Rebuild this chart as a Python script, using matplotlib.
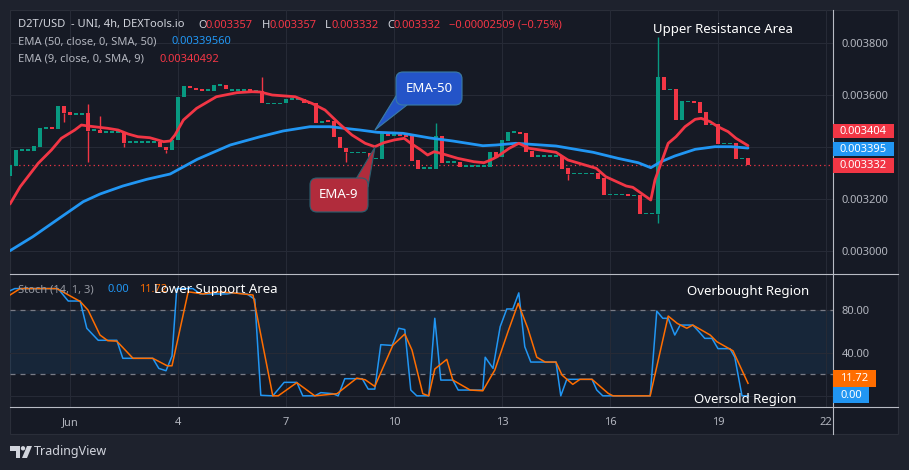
import matplotlib
matplotlib.use("Agg")
import matplotlib.pyplot as plt
from matplotlib.patches import Rectangle, FancyBboxPatch, Polygon, Circle

plt.rcParams['font.family'] = ['Noto Sans', 'DejaVu Sans']

W, H = 909, 470

# ------------------------------------------------ Daten ------------------------------------------------
# 4h-Kerzen, Index 0 = 1. Juni 00:00 (6 Kerzen pro Tag)
bars = list(range(-10, 114))

opens = [
    0.003288, 0.003327, 0.003388, 0.003388, 0.003385, 0.003401, 0.003474, 0.003477, 0.003469, 0.003558,
    0.003535, 0.003527, 0.003524, 0.003531, 0.003465, 0.003465, 0.003458, 0.003458, 0.003458, 0.003458,
    0.003419, 0.003419, 0.003419, 0.003419, 0.003419, 0.003419, 0.003398, 0.003388, 0.003425, 0.003593,
    0.003635, 0.003629, 0.003620, 0.003619, 0.003617, 0.003639, 0.003639, 0.003620, 0.003620, 0.003620,
    0.003624, 0.003616, 0.003614, 0.003568, 0.003568, 0.003568, 0.003568, 0.003584, 0.003584, 0.003584,
    0.003569, 0.003568, 0.003497, 0.003501, 0.003500, 0.003437, 0.003395, 0.003379, 0.003379, 0.003379,
    0.003375, 0.003356, 0.003355, 0.003453, 0.003446, 0.003447, 0.003446, 0.003442, 0.003349, 0.003318,
    0.003318, 0.003316, 0.003442, 0.003341, 0.003341, 0.003341, 0.003326, 0.003326, 0.003326, 0.003326,
    0.003324, 0.003381, 0.003360, 0.003424, 0.003457, 0.003457, 0.003454, 0.003384, 0.003364, 0.003364,
    0.003364, 0.003364, 0.003364, 0.003319, 0.003298, 0.003298, 0.003298, 0.003298, 0.003298, 0.003280,
    0.003216, 0.003216, 0.003216, 0.003214, 0.003213, 0.003214, 0.003143, 0.003143, 0.003142, 0.003669,
    0.003622, 0.003622, 0.003504, 0.003576, 0.003576, 0.003572, 0.003535, 0.003487, 0.003488, 0.003413,
    0.003413, 0.003414, 0.003356, 0.003357,
]
closes = [
    0.003330, 0.003388, 0.003388, 0.003388, 0.003403, 0.003473, 0.003474, 0.003469, 0.003558, 0.003532,
    0.003524, 0.003527, 0.003531, 0.003461, 0.003465, 0.003454, 0.003458, 0.003458, 0.003458, 0.003416,
    0.003419, 0.003419, 0.003419, 0.003419, 0.003419, 0.003398, 0.003388, 0.003427, 0.003593, 0.003635,
    0.003629, 0.003618, 0.003619, 0.003619, 0.003639, 0.003639, 0.003622, 0.003620, 0.003620, 0.003620,
    0.003616, 0.003616, 0.003568, 0.003568, 0.003568, 0.003568, 0.003584, 0.003584, 0.003584, 0.003568,
    0.003568, 0.003493, 0.003497, 0.003500, 0.003437, 0.003395, 0.003379, 0.003379, 0.003379, 0.003379,
    0.003356, 0.003356, 0.003453, 0.003442, 0.003446, 0.003446, 0.003437, 0.003347, 0.003316, 0.003318,
    0.003318, 0.003442, 0.003339, 0.003341, 0.003341, 0.003324, 0.003326, 0.003326, 0.003326, 0.003326,
    0.003381, 0.003360, 0.003427, 0.003458, 0.003457, 0.003451, 0.003381, 0.003362, 0.003364, 0.003364,
    0.003364, 0.003364, 0.003316, 0.003297, 0.003298, 0.003298, 0.003298, 0.003298, 0.003276, 0.003215,
    0.003216, 0.003216, 0.003216, 0.003213, 0.003213, 0.003142, 0.003143, 0.003143, 0.003669, 0.003621,
    0.003622, 0.003504, 0.003576, 0.003576, 0.003569, 0.003532, 0.003485, 0.003487, 0.003412, 0.003413,
    0.003413, 0.003354, 0.003356, 0.003332,
]
# sichtbare Dochte
wick_high = {3: 0.003566, 5: 0.003519, 32: 0.003671, 61: 0.003493, 98: 0.003825}
wick_low = {-1: 0.003497, 3: 0.003343, 9: 0.003401, 16: 0.003378, 46: 0.003343, 83: 0.003272, 98: 0.003105}

# EMA-Linien
ema9_x = [-10, -8.3, -5.3, -3.1, -1.45, 0.8, 1.9, 3, 6.3, 8, 9.7, 11.3, 13.3, 15.6, 16.7, 17.5, 18.9, 21.1,
          24.4, 27.8, 30.3, 31.7, 33.7, 37.5, 40.3, 42.5, 44.8, 47, 49.2, 50.8, 52.3, 54, 55.7, 56.8, 58.5,
          59.6, 60.7, 61.8, 64.6, 67.3, 69, 70.1, 71.2, 73.2, 74.8, 76.5, 81, 83, 87.7, 89.3, 92.7, 93.8,
          96.8, 97.5, 99.7, 101, 102.5, 104.2, 105.2, 106.7, 108, 109.7, 111, 113]
ema9_y = [.0031795, .0032463, .0033367, .003388, .0034332, .0034653, .0034846, .0034807, .0034718, .0034653,
          .0034498, .0034394, .0034355, .0034201, .0034228, .0034459, .0035039, .003549, .0035938, .0036093,
          .0036131, .003612, .0036004, .0035938, .0035683, .0035425, .0034911, .0034459, .0034139, .0034008,
          .0034162, .0034266, .0034332, .0034139, .003388, .0033687, .0033815, .0033753, .003356, .0033429,
          .003339, .0033494, .0033622, .0033946, .0034139, .0033946, .0033792, .0033494, .0033174, .0032849,
          .003249, .003244, .003195, .0032722, .0034139, .0034394, .003478, .0035066, .0035104, .0034973,
          .003478, .0034587, .0034332, .0034049]
ema50_x = [-10, -6.2, -2.2, 2.2, 5, 8.8, 12.8, 16.7, 21.2, 26.7, 31.7, 35.5, 40, 43.3, 48.3, 51.2, 55.5,
           60, 63.8, 68.8, 71, 74.3, 81, 87.2, 91.3, 94.7, 96.8, 98.5, 100.8, 104.2, 107.5, 110.2, 113]
ema50_y = [.0029992, .0030533, .0031178, .0031884, .0032181, .003249, .0032749, .0032954, .0033521, .0034073,
           .0034394, .0034614, .003478, .003478, .0034653, .0034564, .0034525, .0034344, .0034228, .0034046,
           .0034073, .0034139, .0034035, .0033792, .003356, .003339, .0033197, .0033429, .0033649, .0033907,
           .0034008, .0034008, .0033956]

# Stochastik %K (blau) und %D (orange)
k_x = [-10, -9.2, -2, -0.3, 1.7, 2.8, 4.7, 7.8, 8.8, 13.8, 14.8, 16, 17, 17.8, 20.5, 21.7, 26.2, 27.2, 29.5,
       30.8, 31.8, 33.8, 35.7, 37.8, 38.8, 40.8, 41.8, 43.8, 44.7, 45.8, 48.7, 49.7, 50.8, 51.8, 53.7, 54.8,
       55.8, 56.8, 57.8, 59.8, 60.8, 61.8, 63.8, 64.7, 68.8, 69.2, 70.5, 71.7, 72.8, 73.8, 74.8, 75.8, 76.8,
       81, 81.8, 82.8, 87, 87.8, 88.8, 96.7, 97.8, 98.8, 99.7, 100.8, 101.7, 103.8, 104.8, 105.8, 107, 108,
       110, 110.8, 112, 113]
k_val = [98, 100, 100, 88.4, 88.4, 63, 51.8, 51.8, 35, 35, 25.6, 23.4, 37.1, 100, 100, 95, 95, 96, 95, 90,
         0.5, 0, 12.6, 12.6, 0, 0, 3, 2, 0, 16, 16, 6.3, 6.3, 47.7, 47, 63, 61.8, 5.4, 0, 0, 72.3, 14.7, 14.7,
         5.4, 5.4, 36, 25.6, 64.5, 81, 81, 96, 45.8, 31.5, 31.5, 0, 15.4, 15.4, 5.4, 0, 0, 79, 72.3, 72.3,
         56.7, 66, 66, 60, 53.6, 53.6, 44, 44, 36, 0, 0]
d_x = [-10, -8.3, -2.2, 1.7, 3.0, 5.0, 6.3, 7.8, 10.5, 13.8, 16.2, 17.0, 19.7, 22.2, 24.5, 27.2, 30.5, 33.8,
       34.7, 37.8, 40.8, 44.5, 47.8, 49.2, 50.8, 53.8, 55.8, 57.0, 58.8, 59.8, 60.8, 62.8, 63.8, 66.7, 68.8,
       70.8, 73.0, 74.7, 76.3, 77.8, 79.2, 81.0, 82.0, 83.8, 85.0, 87.0, 89.7, 90.5, 96.7, 99.7, 101.2, 102.8,
       103.8, 106.7, 107.8, 110.5, 113]
d_val = [94, 100, 100, 88, 80, 56.7, 51.4, 51, 35, 35, 28, 28, 97, 95, 97, 96, 94, 0, 0, 12.3, 0, 2, 16.5,
         15, 8.8, 47.1, 57.6, 42.7, 2, 0, 25, 34, 14.7, 5.4, 4.7, 24, 59.8, 86.3, 63, 36, 31.5, 31.5, 19.4,
         10.7, 15.4, 15.4, 2.3, 0, 0, 74.4, 67.6, 63, 66, 56.7, 50.5, 42, 11.72]

date_ticks = [0, 18, 36, 54, 72, 90, 108, 126]
date_labels = ['Jun', '4', '7', '10', '13', '16', '19', '22']
price_ticks = [0.0030, 0.0032, 0.0034, 0.0036, 0.0038]
price_labels = ['0.003000', '0.003200', '', '0.003600', '0.003800']

# ------------------------------------------------ Farben ------------------------------------------------
up = '#089981'
down = '#F23645'
blue = '#2196F3'
orange = '#FF6D00'
grid_c = '#262a36'
txt_c = '#b2b5be'

fig = plt.figure(figsize=(W / 100, H / 100), dpi=100)
fig.patch.set_facecolor('#1e222d')
fig.add_artist(Rectangle((10 / W, 1 - 434 / H), 888 / W, 424 / H, transform=fig.transFigure,
                         facecolor='#161a25', edgecolor='#2a2e39', lw=0.8, zorder=-5))

ax1 = fig.add_axes([10 / W, 1 - 274 / H, 823 / W, 264 / H])
ax2 = fig.add_axes([10 / W, 1 - 407 / H, 823 / W, 133 / H])
for ax in (ax1, ax2):
    ax.set_facecolor('none')
    for s in ax.spines.values():
        s.set_visible(False)
    ax.set_xlim(-10, 127.17)
    ax.set_xticks(date_ticks)
    ax.grid(True, color=grid_c, lw=0.8)
    ax.set_axisbelow(True)
    ax.yaxis.tick_right()
    ax.tick_params(length=0, labelsize=8, labelcolor=txt_c, pad=6)

# ------------------------------------------------ Kerzen ------------------------------------------------
minh = 0.000006
colors = [up if c >= o else down for o, c in zip(opens, closes)]
bottoms, heights = [], []
for o, c in zip(opens, closes):
    if abs(c - o) < minh:
        bottoms.append((o + c) / 2 - minh / 2)
        heights.append(minh)
    else:
        bottoms.append(min(o, c))
        heights.append(abs(c - o))
ax1.bar(bars, heights, bottom=bottoms, width=0.8, color=colors, linewidth=0, zorder=2)

for b, hv in wick_high.items():
    k = bars.index(b)
    ax1.vlines(b, max(opens[k], closes[k]), hv, color=colors[k], lw=1, zorder=2)
for b, lv in wick_low.items():
    k = bars.index(b)
    ax1.vlines(b, lv, min(opens[k], closes[k]), color=colors[k], lw=1, zorder=2)

ax1.plot(ema50_x, ema50_y, color=blue, lw=2, zorder=3, solid_capstyle='round')
ax1.plot(ema9_x, ema9_y, color=down, lw=2, zorder=3, solid_capstyle='round')
ax1.axhline(closes[-1], color=down, lw=0.9, ls=(0, (1, 2.5)), zorder=1)

ax1.set_ylim(0.0029093, 0.0039286)
ax1.set_yticks(price_ticks)
ax1.set_yticklabels(price_labels)
ax1.set_xticklabels([])

# ------------------------------------------------ Stochastik ------------------------------------------------
ax2.axhspan(20, 80, color=blue, alpha=0.1, lw=0, zorder=0)
ax2.axhline(80, color='#787b86', lw=0.9, ls=(0, (4, 4)), zorder=1)
ax2.axhline(20, color='#787b86', lw=0.9, ls=(0, (4, 4)), zorder=1)
ax2.plot(k_x, k_val, color=blue, lw=1.1, zorder=3)
ax2.plot(d_x, d_val, color=orange, lw=1.1, zorder=3)
ax2.set_ylim(-10.4, 113.6)
ax2.set_yticks([0, 40, 80])
ax2.set_yticklabels(['', '40.00', '80.00'])
ax2.set_xticklabels(date_labels)
ax2.tick_params(axis='x', pad=7)

# ------------------------------------------------ Overlay (Pixel) ------------------------------------------------
ov = fig.add_axes([0, 0, 1, 1], zorder=10)
ov.set_xlim(0, W)
ov.set_ylim(H, 0)
ov.axis('off')
ov.patch.set_alpha(0)

sep = '#b8bbc4'
ov.plot([10, 898], [274, 274], color=sep, lw=0.8)
ov.plot([10, 898], [407, 407], color=sep, lw=0.8)
ov.plot([833, 833], [10, 434], color=sep, lw=0.8)

# Kopfzeile
head = [('D2T/USD  - UNI, 4h, DEXTools.io', 18, '#d1d4dc'),
        ('O', 198, '#d1d4dc'), ('%.6f' % opens[-1], 206, down),
        ('H', 262, '#d1d4dc'), ('0.003357', 270, down),
        ('L', 325, '#d1d4dc'), ('0.003332', 331, down),
        ('C', 387, '#d1d4dc'), ('%.6f' % closes[-1], 393, down),
        ('\u22120.00002509 (\u22120.75%)', 449, down)]
for s, x, c in head:
    ov.text(x, 25, s, color=c, fontsize=8, va='center', ha='left')
ov.text(18, 42, 'EMA (50, close, 0, SMA, 50)', color=txt_c, fontsize=8, va='center')
ov.text(172, 42, '0.00339560', color=blue, fontsize=8, va='center')
ov.text(18, 59, 'EMA (9, close, 0, SMA, 9)', color=txt_c, fontsize=8, va='center')
ov.text(160, 59, '0.00340492', color=down, fontsize=8, va='center')

ov.text(18, 290, 'Stoch (14, 1, 3)', color='#9598a1', fontsize=8, va='center')
ov.text(108, 290, '0.00', color=blue, fontsize=8, va='center')
ov.text(139, 290, '11.72', color=orange, fontsize=8, va='center')
ov.text(216, 290, 'Lower Support Area', color='white', fontsize=9.5, va='center', ha='center')

ov.text(723, 30, 'Upper Resistance Area', color='white', fontsize=9.5, va='center', ha='center')
ov.text(748, 291, 'Overbought Region', color='white', fontsize=9.5, va='center', ha='center')
ov.text(745, 399, 'Oversold Region', color='white', fontsize=9.5, va='center', ha='center')

# Sprechblasen
ov.add_patch(Polygon([(396, 96), (407, 105), (375, 130)], closed=True, facecolor='#2454c8',
                     edgecolor='#3a7ca5', lw=0.8, zorder=4))
ov.add_patch(FancyBboxPatch((396, 72), 66, 33, boxstyle='round,pad=0,rounding_size=7',
                            facecolor='#2454c8', edgecolor='#3a7ca5', lw=0.8, zorder=5))
ov.text(429, 88.5, 'EMA-50', color='white', fontsize=9.5, ha='center', va='center', zorder=6)

ov.add_patch(Polygon([(356, 179), (368, 187), (375, 147)], closed=True, facecolor='#b12c3c',
                     edgecolor='#2b6070', lw=0.8, zorder=4))
ov.add_patch(FancyBboxPatch((310, 178), 58, 34, boxstyle='round,pad=0,rounding_size=7',
                            facecolor='#b12c3c', edgecolor='#2b6070', lw=0.8, zorder=5))
ov.text(339, 195, 'EMA-9', color='white', fontsize=9.5, ha='center', va='center', zorder=6)


# Preis-Marken rechts
def tag(y0, y1, x1, text, color):
    ov.add_patch(Rectangle((833, y0), x1 - 833, y1 - y0, facecolor=color, edgecolor='none', zorder=5))
    ov.text((833 + x1) / 2, (y0 + y1) / 2, text, color='white', fontsize=8, fontweight='bold',
            ha='center', va='center', zorder=6)


tag(124, 138, 894, '0.003404', down)
tag(142, 156, 894, '0.003395', blue)
tag(158, 173, 894, '%.6f' % closes[-1], down)
tag(370, 387, 876, '11.72', orange)
tag(387, 403, 869, '0.00', blue)

# TradingView Logo
logo = '#d1d4dc'
ov.add_patch(Polygon([(10, 446), (20, 446), (20, 458), (15.5, 458), (15.5, 450.5), (10, 450.5)],
                     closed=True, facecolor=logo, edgecolor='none'))
ov.add_patch(Circle((23, 448.3), 2.2, facecolor=logo, edgecolor='none'))
ov.add_patch(Polygon([(27, 446), (32, 446), (27, 458), (22, 458)], closed=True, facecolor=logo, edgecolor='none'))
ov.text(34, 452, 'TradingView', color=logo, fontsize=9, va='center', ha='left')

fig.savefig('out.png', dpi=100, facecolor=fig.get_facecolor())
